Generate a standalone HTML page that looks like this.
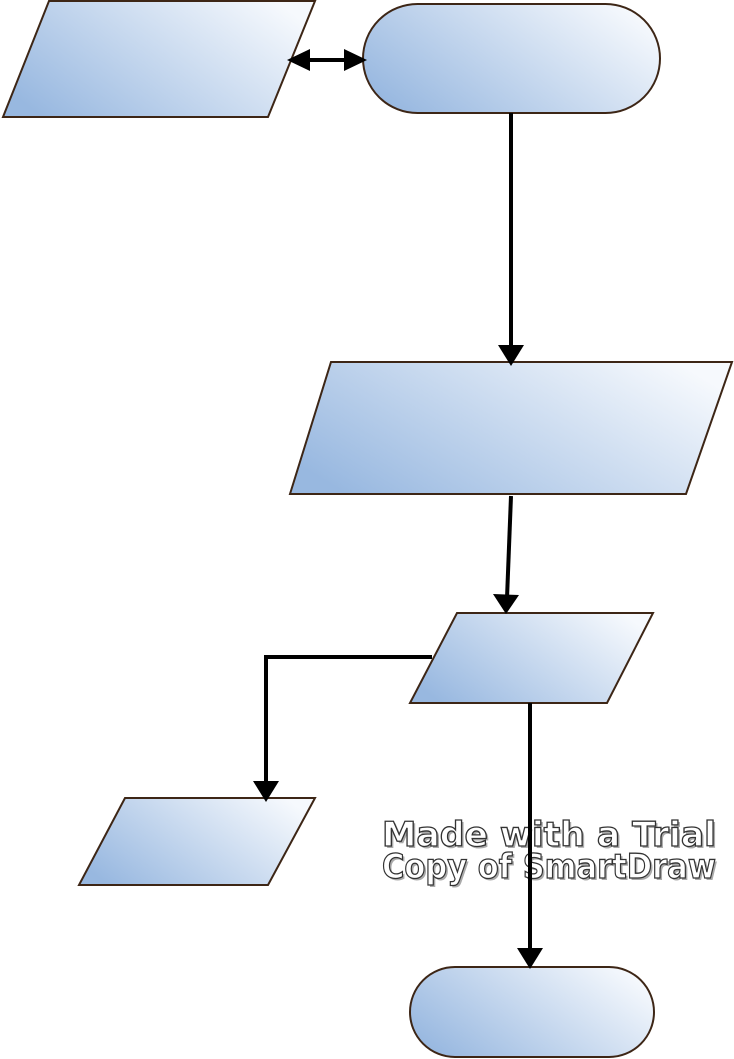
<!DOCTYPE html>
<html><head><meta charset="utf-8"><style>
html,body{margin:0;padding:0;background:#fff;}
svg{display:block;}
</style></head><body>
<svg width="734" height="1059" viewBox="0 0 734 1059" xmlns="http://www.w3.org/2000/svg">
<defs>
<linearGradient id="g" x1="0" y1="0.75" x2="1" y2="0.25">
<stop offset="0" stop-color="#98b8e0"/>
<stop offset="1" stop-color="#f6f9fd"/>
</linearGradient>
</defs>
<g stroke="#3d2616" stroke-width="2" fill="url(#g)">
<polygon points="49,1 315,1 268,117 3,117"/>
<rect x="363" y="4" width="297" height="109" rx="54.5" ry="54.5"/>
<polygon points="331,362 732,362 686,494 290,494"/>
<polygon points="457,613 653,613 607,703 410,703"/>
<polygon points="125,798 315,798 268,885 79,885"/>
<rect x="410" y="967" width="244" height="90" rx="45" ry="45"/>
</g>
<g font-family="'DejaVu Sans', 'Liberation Sans', sans-serif" font-weight="bold" font-size="34">
<g fill="#aaa" transform="translate(2,2)">
<text x="382" y="846" textLength="334" lengthAdjust="spacingAndGlyphs">Made with a Trial</text>
<text x="382" y="878" textLength="334" lengthAdjust="spacingAndGlyphs">Copy of SmartDraw</text>
</g>
<g fill="#fff" stroke="#333" stroke-width="1.3">
<text x="382" y="846" textLength="334" lengthAdjust="spacingAndGlyphs">Made with a Trial</text>
<text x="382" y="878" textLength="334" lengthAdjust="spacingAndGlyphs">Copy of SmartDraw</text>
</g>
</g>
<g stroke="#000" stroke-width="4" fill="none">
<line x1="300" y1="60" x2="354" y2="60"/>
<line x1="511" y1="113" x2="511" y2="348"/>
<line x1="511" y1="496" x2="507" y2="598"/>
<polyline points="432,657 266,657 266,785"/>
<line x1="530" y1="703" x2="530" y2="953"/>
</g>
<g fill="#000">
<polygon points="287,60 310,49 310,71"/>
<polygon points="367,60 344,49 344,71"/>
<polygon points="511,366 498,345 524,345"/>
<polygon points="506,614 493,594 519,595"/>
<polygon points="266,802 253,781 279,781"/>
<polygon points="530,969 517,948 543,948"/>
</g>
</svg>
</body></html>
